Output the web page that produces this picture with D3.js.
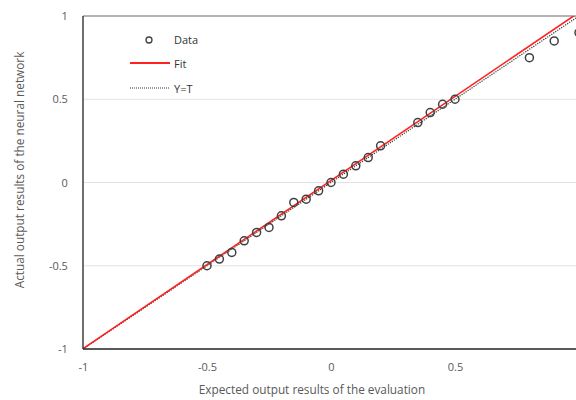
<!DOCTYPE html>
<html><head><meta charset="utf-8">
<script src="https://cdn.jsdelivr.net/npm/d3@7"></script>
<style>body{margin:0;background:#fff}svg{display:block}</style>
</head><body>
<script>
const expected = [-0.5,-0.45,-0.4,-0.35,-0.3,-0.25,-0.2,-0.15,-0.1,-0.05,0,0.05,0.1,0.15,0.2,0.35,0.4,0.45,0.5,0.8,0.9,1.0];
const actual   = [-0.5,-0.46,-0.42,-0.35,-0.3,-0.27,-0.2,-0.12,-0.1,-0.05,0,0.05,0.1,0.15,0.22,0.36,0.42,0.47,0.5,0.75,0.85,0.9];
const fitSlope = 1.01, fitIntercept = 0.012;
const xTicks = [-1,-0.5,0,0.5];
const yTicks = [-1,-0.5,0,0.5,1];
const legendLabels = ["Data","Fit","Y=T"];

const W=576,H=400;
const svg=d3.select("body").append("svg").attr("width",W).attr("height",H);
const x=d3.scaleLinear().domain([-1,1]).range([83,579]);
const y=d3.scaleLinear().domain([-1,1]).range([349,16]);
const font="'Open Sans', 'Liberation Sans', Arial, sans-serif";
const txt="#595959";
const fmt=d=>String(d);

// gridlines
svg.append("g").selectAll("line").data(yTicks.filter(d=>d>-1&&d<1)).join("line")
 .attr("x1",x(-1)).attr("x2",W).attr("y1",d=>y(d)).attr("y2",d=>y(d))
 .attr("stroke","#e3e3e3").attr("stroke-width",1);
// top border
svg.append("line").attr("x1",x(-1)).attr("x2",W).attr("y1",y(1)).attr("y2",y(1)).attr("stroke","#6a6a6a").attr("stroke-width",1.2);

svg.append("clipPath").attr("id","c").append("rect").attr("x",x(-1)).attr("y",y(1)).attr("width",x(1)-x(-1)).attr("height",y(-1)-y(1));
const g=svg.append("g").attr("clip-path","url(#c)");
// Y=T
g.append("line").attr("x1",x(-1)).attr("y1",y(-1)).attr("x2",x(1)).attr("y2",y(1))
 .attr("stroke","#333").attr("stroke-width",1.2).attr("stroke-dasharray","1.2,1.2");
// fit
g.append("line").attr("x1",x(-1)).attr("y1",y(fitSlope*-1+fitIntercept)).attr("x2",x(1)).attr("y2",y(fitSlope+fitIntercept))
 .attr("stroke","#ff2020").attr("stroke-width",1.6);
// points
svg.append("g").selectAll("circle").data(expected.map((e,i)=>[e,actual[i]])).join("circle")
 .attr("cx",d=>x(d[0])).attr("cy",d=>y(d[1])).attr("r",4)
 .attr("fill","none").attr("stroke","#404040").attr("stroke-width",1.5);

// axes
const xa=svg.append("g").attr("transform",`translate(0,${y(-1)})`).call(d3.axisBottom(x).tickValues(xTicks).tickSize(0).tickFormat(fmt));
xa.select(".domain").remove();
xa.selectAll("text").attr("dy","1.7em").attr("font-family",font).attr("font-size",11).attr("fill",txt);
svg.append("line").attr("x1",x(-1)).attr("x2",W).attr("y1",y(-1)).attr("y2",y(-1)).attr("stroke","#222").attr("stroke-width",1.3);

const ya=svg.append("g").attr("transform",`translate(${x(-1)},0)`).call(d3.axisLeft(y).tickValues(yTicks).tickSize(0).tickFormat(fmt));
ya.select(".domain").remove();
ya.selectAll("text").attr("dx","-1.1em").attr("font-family",font).attr("font-size",11).attr("fill",txt);
svg.append("line").attr("x1",x(-1)).attr("x2",x(-1)).attr("y1",y(1)).attr("y2",y(-1)).attr("stroke","#222").attr("stroke-width",1.3);

// titles
svg.append("text").attr("x",312).attr("y",394).attr("text-anchor","middle")
 .attr("font-family",font).attr("font-size",11.8).attr("fill",txt).text("Expected output results of the evaluation");
svg.append("text").attr("transform",`translate(24,170) rotate(-90)`).attr("text-anchor","middle")
 .attr("font-family",font).attr("font-size",11.8).attr("fill",txt).text("Actual output results of the neural network");

// legend
const lg=svg.append("g");
lg.append("circle").attr("cx",149).attr("cy",40).attr("r",3).attr("fill","none").attr("stroke","#404040").attr("stroke-width",1.3);
lg.append("line").attr("x1",130).attr("x2",170).attr("y1",63).attr("y2",63).attr("stroke","#ff2020").attr("stroke-width",1.8);
lg.append("line").attr("x1",130).attr("x2",170).attr("y1",88).attr("y2",88).attr("stroke","#333").attr("stroke-width",1).attr("stroke-dasharray","1,1");
lg.selectAll("text").data(legendLabels).join("text").attr("x",174).attr("y",(d,i)=>40+i*24.5).attr("dy","0.35em")
 .attr("font-family",font).attr("font-size",11).attr("fill","#333").text(d=>d);
</script>
</body></html>
